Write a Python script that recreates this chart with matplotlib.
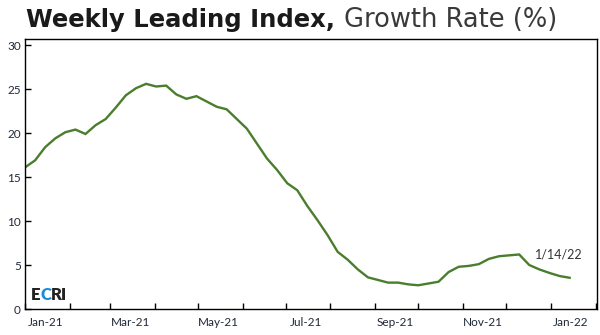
import numpy as np
import pandas as pd
import matplotlib
matplotlib.use("Agg")
import matplotlib.pyplot as plt
import matplotlib.dates as mdates

# Weekly Leading Index growth rate (%), weekly readings from Jan 1 2021
start_date = "2021-01-01"
growth = [16.1, 16.9, 18.4, 19.4, 20.1,
          20.4, 19.9, 20.9, 21.6,
          22.9, 24.3, 25.1, 25.6,
          25.3, 25.4, 24.4, 23.9, 24.2,
          23.6, 23.0, 22.7, 21.6,
          20.5, 18.8, 17.1, 15.8,
          14.3, 13.5, 11.7, 10.1, 8.4,
          6.5, 5.6, 4.5, 3.6,
          3.3, 3.0, 3.0, 2.8,
          2.7, 2.9, 3.1, 4.2, 4.8,
          4.9, 5.1, 5.7, 6.0,
          6.1, 6.2, 5.0, 4.5, 4.1,
          3.75, 3.55]
last_label = "1/14/22"
y_ticks = [0, 5, 10, 15, 20, 25, 30]

dates = pd.date_range(start_date, periods=len(growth), freq="7D")

plt.rcParams['font.family'] = ['Lato', 'DejaVu Sans']
text_col = '#1f2937'
line_col = '#4a7d2c'

fig = plt.figure(figsize=(6.0, 3.35), dpi=100)
ax = fig.add_axes([25/600, 26/335, 572/600, 270/335])

ax.plot(dates, growth, color=line_col, linewidth=1.7, solid_joinstyle='miter')

ax.set_ylim(0, 30.7)
ax.set_yticks(y_ticks)
ax.set_xlim(pd.Timestamp("2021-01-01"), pd.Timestamp("2022-02-02"))

# month ticks without labels, labels at mid-month of every other month
ax.xaxis.set_major_locator(mdates.MonthLocator())
ax.xaxis.set_major_formatter(plt.NullFormatter())
ax.xaxis.set_minor_locator(mdates.MonthLocator(bymonth=[1, 3, 5, 7, 9, 11], bymonthday=15))
ax.xaxis.set_minor_formatter(mdates.DateFormatter("%b-%y"))

ax.tick_params(axis='x', which='major', direction='in', length=4, width=1, color='black')
ax.tick_params(axis='x', which='minor', length=0, pad=6, labelsize=8.5, labelcolor=text_col)
ax.tick_params(axis='y', direction='in', length=4, width=1, pad=3, labelsize=8.5, labelcolor=text_col)

for s in ax.spines.values():
    s.set_linewidth(1.0)
    s.set_color('black')

# last point label
ax.annotate(last_label, xy=(dates[-1], growth[-1]), xytext=(-25, 14),
            textcoords='offset points', fontsize=9, color='#333333')

# ECRI logo text
t1 = ax.text(0.01, 0.035, "E", transform=ax.transAxes, fontsize=12,
             fontweight='heavy', color='#222222')
fig.canvas.draw()
r = fig.canvas.get_renderer()
bb = t1.get_window_extent(r)
inv = ax.transAxes.inverted()
x2 = inv.transform((bb.x1, bb.y0))[0]
t2 = ax.text(x2, 0.035, "C", transform=ax.transAxes, fontsize=12,
             fontweight='heavy', color='#1a8cdc')
bb = t2.get_window_extent(r)
x3 = inv.transform((bb.x1, bb.y0))[0]
ax.text(x3, 0.035, "RI", transform=ax.transAxes, fontsize=12,
        fontweight='heavy', color='#222222')

# title in two weights
tb = fig.text(26/600, 1 - 27/335, "Weekly Leading Index,", fontsize=17.5,
              fontweight='bold', color='#1a1a1a', family='DejaVu Sans')
bb = tb.get_window_extent(r)
fx = fig.transFigure.inverted().transform((bb.x1, bb.y0))[0]
fig.text(fx + 9/600, 1 - 27/335, "Growth Rate (%)", fontsize=18.5,
         fontweight='normal', color='#3a3a3a', family='DejaVu Sans')

fig.savefig("out.png", dpi=100)
